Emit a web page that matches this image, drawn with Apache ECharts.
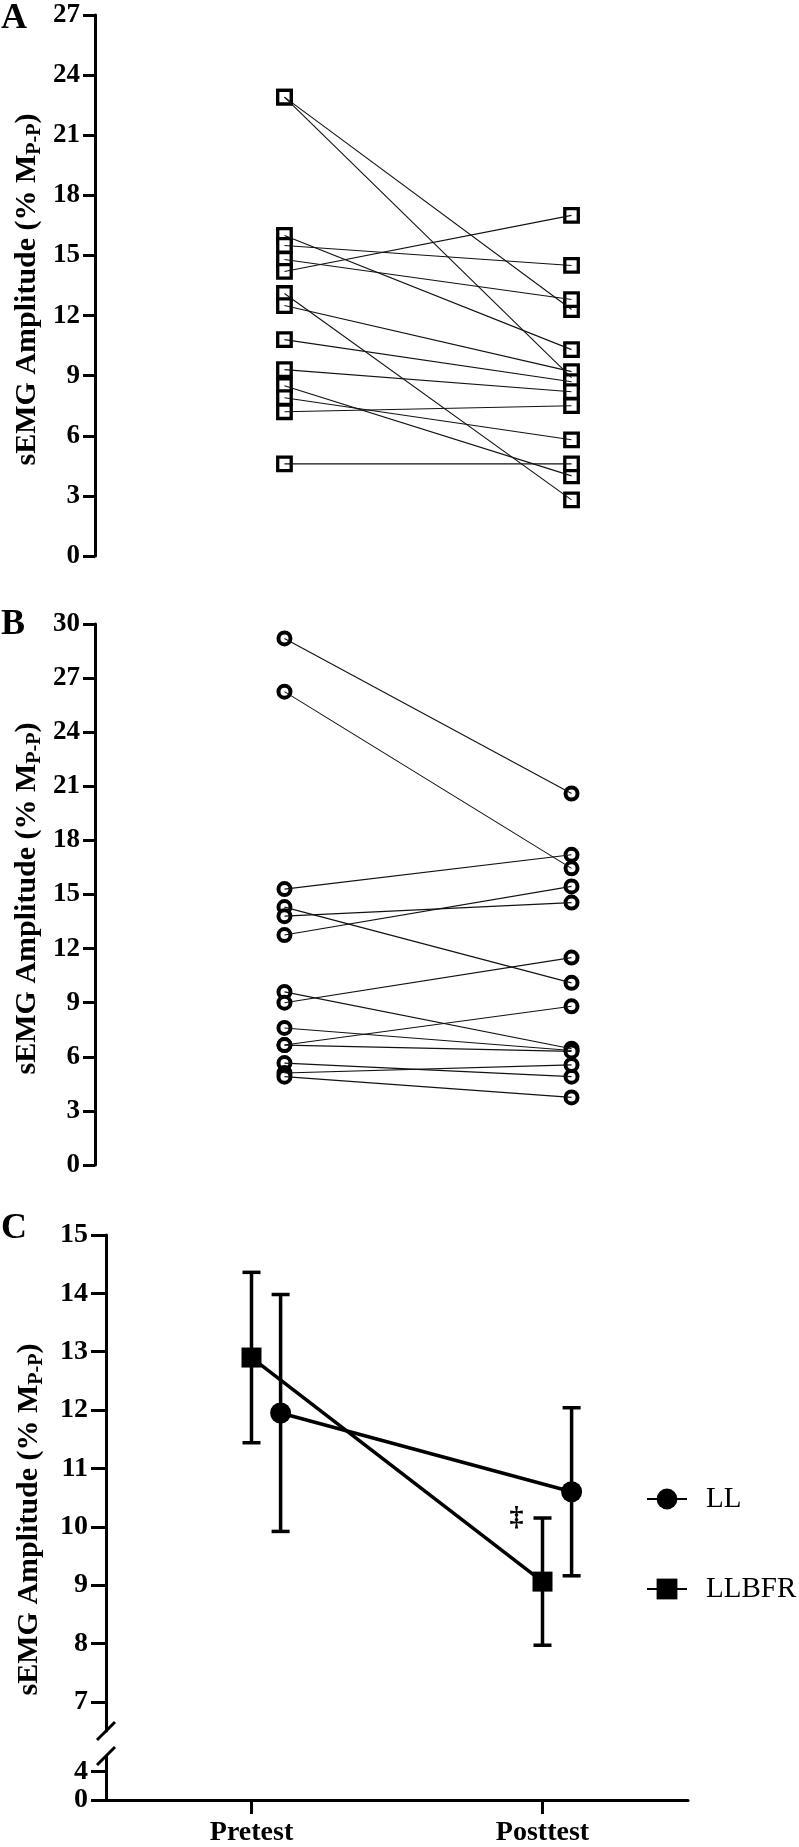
<!DOCTYPE html>
<html><head><meta charset="utf-8">
<script src="https://cdn.jsdelivr.net/npm/echarts@6/dist/echarts.min.js"></script>
<style>html,body{margin:0;padding:0;background:#fff}#c{width:799px;height:1847px}</style>
</head><body><div id="c"></div>
<script>
// ---------- data ----------
const phases = ['Pretest', 'Posttest'];
// Panel A (LLBFR individual subjects)
const aPre  = [22.9, 22.9, 16.0, 15.5, 14.8, 14.2, 13.1, 12.5, 10.8, 9.3, 8.5, 7.9, 7.2, 4.6];
const aPost = [12.3, 8.9, 10.3, 14.5, 12.8, 17.0, 2.8, 9.2, 8.7, 8.2, 4.0, 5.8, 7.5, 4.6];
// Panel B (LL individual subjects)
const bPre  = [29.2, 26.25, 15.3, 14.3, 13.8, 12.75, 9.6, 9.0, 7.6, 6.65, 6.65, 5.65, 5.1, 4.9];
const bPost = [20.6, 16.45, 17.2, 10.1, 14.55, 15.45, 6.45, 11.5, 6.35, 8.8, 6.3, 4.9, 5.55, 3.75];
// Panel C (group means and error)
const llMean  = [11.95, 10.6];
const llErr   = [2.03, 1.44];
const bfrMean = [12.9, 9.06];
const bfrErr  = [1.46, 1.09];
const cUpperTicks = [7, 8, 9, 10, 11, 12, 13, 14, 15];
const cLowerTicks = [0, 4];
const seriesNames = ['LL', 'LLBFR'];
const sigMark = '\u2021';
const yTitle = '{a|sEMG Amplitude (% M}{b|P-P}{a|)}';

// ---------- styles ----------
const FF = "Liberation Serif";
const BLACK = '#000';
const LL_SHIFT = 0.1;
const titleRich = {
  a: {fontFamily: FF, fontWeight: 'bold', fontSize: 30, fill: BLACK, color: BLACK, lineHeight: 36},
  b: {fontFamily: FF, fontWeight: 'bold', fontSize: 20, fill: BLACK, color: BLACK, padding: [16, 0, 0, 0]}
};
function yAx(grid, min, max, extra) {
  return Object.assign({
    gridIndex: grid, type: 'value', min: min, max: max,
    axisLine: {show: true, onZero: false, lineStyle: {color: BLACK, width: 3}},
    axisTick: {show: true, length: 12, lineStyle: {color: BLACK, width: 3}},
    axisLabel: {margin: 15, fontFamily: FF, fontWeight: 'bold', fontSize: 27, color: BLACK},
    splitLine: {show: false}
  }, extra || {});
}
function hiddenX(grid, min, max) {
  return {gridIndex: grid, type: 'value', min: min, max: max, show: false, splitLine: {show: false}};
}
function subjectSeries(pre, post, idx, sym, size, bw) {
  const s = pre.map((v, i) => ({
    type: 'line', xAxisIndex: idx, yAxisIndex: idx, data: [[1, v], [2, post[i]]],
    symbol: 'none', silent: true, z: 3, animation: false,
    lineStyle: {color: '#111', width: 1.1}
  }));
  s.push({
    type: 'scatter', xAxisIndex: idx, yAxisIndex: idx, z: 2, animation: false, silent: true,
    data: pre.map(v => [1, v]).concat(post.map(v => [2, v])),
    symbol: sym, symbolSize: size,
    itemStyle: {color: '#fff', borderColor: BLACK, borderWidth: bw, opacity: 1}
  });
  return s;
}
function errSeries(means, errs, shift) {
  return {
    type: 'custom', xAxisIndex: 2, yAxisIndex: 2, z: 2, silent: true, animation: false,
    data: means.map((m, i) => [i + 1 + shift, m - errs[i], m + errs[i]]),
    renderItem: function (params, api) {
      const x = api.value(0);
      const lo = api.coord([x, api.value(1)]);
      const hi = api.coord([x, api.value(2)]);
      const w = 9, st = {stroke: BLACK, lineWidth: 3.5};
      return {type: 'group', children: [
        {type: 'line', shape: {x1: lo[0], y1: lo[1], x2: hi[0], y2: hi[1]}, style: st},
        {type: 'line', shape: {x1: hi[0] - w, y1: hi[1], x2: hi[0] + w, y2: hi[1]}, style: st},
        {type: 'line', shape: {x1: lo[0] - w, y1: lo[1], x2: lo[0] + w, y2: lo[1]}, style: st}
      ]};
    }
  };
}

const chart = echarts.init(document.getElementById('c'), null, {renderer: 'canvas'});
const option = {
  backgroundColor: '#fff',
  animation: false,
  grid: [
    {left: 95, top: 15, width: 666, height: 541},
    {left: 95, top: 624, width: 666, height: 541},
    {left: 106, top: 1235, width: 582, height: 496},
    {left: 106, top: 1756, width: 582, height: 44}
  ],
  xAxis: [
    hiddenX(0, 0.34, 2.66),
    hiddenX(1, 0.34, 2.66),
    hiddenX(2, 0.5, 2.5),
    {gridIndex: 3, type: 'category', data: phases, boundaryGap: true,
     axisLine: {show: true, onZero: false, lineStyle: {color: BLACK, width: 3}},
     axisTick: {show: true, alignWithLabel: true, length: 14, lineStyle: {color: BLACK, width: 3}},
     axisLabel: {margin: 19, fontFamily: FF, fontWeight: 'bold', fontSize: 28, color: BLACK},
     splitLine: {show: false}}
  ],
  yAxis: [
    yAx(0, 0, 27, {interval: 3}),
    yAx(1, 0, 30, {interval: 3}),
    yAx(2, 6.5, 15, {
      axisTick: {show: true, length: 15, customValues: cUpperTicks, lineStyle: {color: BLACK, width: 3}},
      axisLabel: {margin: 18, customValues: cUpperTicks, fontFamily: FF, fontWeight: 'bold', fontSize: 28, color: BLACK}
    }),
    yAx(3, 0, 6.2, {
      axisTick: {show: true, length: 15, customValues: cLowerTicks, lineStyle: {color: BLACK, width: 3}},
      axisLabel: {margin: 18, customValues: cLowerTicks, fontFamily: FF, fontWeight: 'bold', fontSize: 28, color: BLACK}
    })
  ],
  legend: {
    data: seriesNames, orient: 'vertical', left: 641, top: 1478,
    itemWidth: 40, itemHeight: 26, itemGap: 58, selectedMode: false,
    textStyle: {fontFamily: FF, fontSize: 29, color: BLACK, padding: [0, 0, 0, 14], lineHeight: 32}
  },
  series: [].concat(
    subjectSeries(aPre, aPost, 0, 'rect', 13.5, 3.3),
    subjectSeries(bPre, bPost, 1, 'circle', 12, 4),
    [
      errSeries(bfrMean, bfrErr, 0),
      errSeries(llMean, llErr, LL_SHIFT),
      {name: seriesNames[1], type: 'line', xAxisIndex: 2, yAxisIndex: 2, z: 4,
       data: bfrMean.map((m, i) => [i + 1, m]), symbol: 'rect', symbolSize: 20,
       lineStyle: {color: BLACK, width: 3.5}, itemStyle: {color: BLACK}},
      {name: seriesNames[0], type: 'line', xAxisIndex: 2, yAxisIndex: 2, z: 4,
       data: llMean.map((m, i) => [i + 1 + LL_SHIFT, m]), symbol: 'circle', symbolSize: 21,
       lineStyle: {color: BLACK, width: 3.5}, itemStyle: {color: BLACK}},
      {type: 'scatter', xAxisIndex: 2, yAxisIndex: 2, z: 5, silent: true,
       data: [[2, bfrMean[1] + bfrErr[1]]], symbolSize: 1, itemStyle: {color: '#fff', opacity: 0},
       label: {show: true, position: 'inside', offset: [-26, 0], formatter: sigMark,
               fontFamily: FF, fontWeight: 'bold', fontSize: 28, color: BLACK, opacity: 1}}
    ]
  )
};
chart.setOption(option);

// decorations: axis titles, panel letters and axis break marks
const bx = chart.convertToPixel({xAxisIndex: 2}, 0.5);
const by1 = chart.convertToPixel({yAxisIndex: 2}, 6.5);
const by2 = chart.convertToPixel({yAxisIndex: 3}, 6.2);
const midA = (chart.convertToPixel({yAxisIndex: 0}, 0) + chart.convertToPixel({yAxisIndex: 0}, 27)) / 2;
const midB = (chart.convertToPixel({yAxisIndex: 1}, 0) + chart.convertToPixel({yAxisIndex: 1}, 30)) / 2;
const midC = (chart.convertToPixel({yAxisIndex: 3}, 0) + chart.convertToPixel({yAxisIndex: 2}, 15)) / 2;
function brk(y) {
  return {type: 'line', shape: {x1: bx - 9, y1: y + 9, x2: bx + 9, y2: y - 9},
          style: {stroke: BLACK, lineWidth: 3}, z: 10};
}
function letter(t, y) {
  return {type: 'text', x: 1, y: y, z: 10,
          style: {text: t, font: 'bold 36px "Liberation Serif"', fill: BLACK, textVerticalAlign: 'middle'}};
}
function title(x, y) {
  return {type: 'text', x: x, y: y, rotation: Math.PI / 2, z: 10,
          style: {text: yTitle, rich: titleRich, align: 'center', verticalAlign: 'middle',
                  fill: BLACK, font: 'bold 30px "Liberation Serif"'}};
}
chart.setOption({graphic: [
  brk(by1), brk(by2),
  letter('A', 19), letter('B', 625), letter('C', 1229),
  title(27, midA + 4), title(27, midB + 4), title(29, midC + 2)
]});
</script></body></html>
